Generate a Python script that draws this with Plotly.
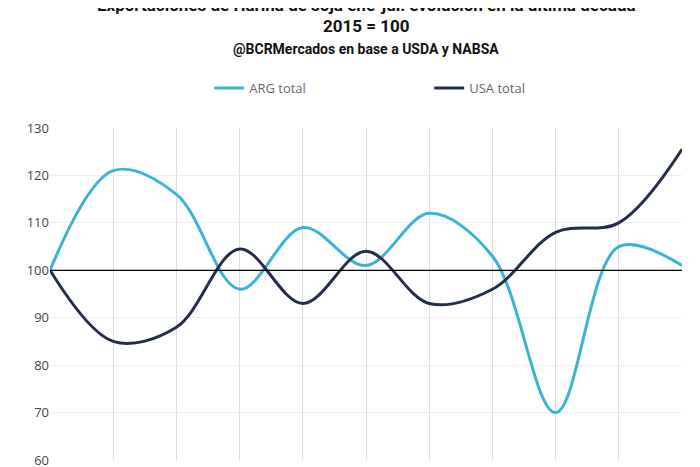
import plotly.graph_objects as go

years = list(range(2015, 2026))
arg_total = [100, 121, 116, 96, 109, 101, 112, 103, 70, 105, 101]
usa_total = [100, 85, 88, 104.5, 93, 104, 93, 96, 108, 110, 125.5]

fig = go.Figure()
fig.add_trace(go.Scatter(x=years, y=arg_total, mode="lines", name="ARG total",
                         line=dict(color="#3ab4d4", width=3, shape="spline", smoothing=1.0)))
fig.add_trace(go.Scatter(x=years, y=usa_total, mode="lines", name="USA total",
                         line=dict(color="#222e4a", width=3, shape="spline", smoothing=1.0)))
fig.add_hline(y=100, line=dict(color="black", width=1.2))

# the page adds ~8px of body margin, so pixel offsets below are shifted up by 8
titles = [
    ("<b>Exportaciones de Harina de soja ene-jul: evolución en la última década</b>", -3, 17),
    ("<b>2015 = 100</b>", 18, 17),
    ("<b>@BCRMercados en base a USDA y NABSA</b>", 41, 14),
]
for text, ypix, size in titles:
    fig.add_annotation(text=text, x=0.5, y=1.0, xref="paper", yref="paper", yanchor="middle",
                       yshift=120 - ypix, showarrow=False,
                       font=dict(size=size, family="Roboto", color="#111"))

fig.update_layout(
    width=700, height=467,
    margin=dict(l=42, r=26, t=120, b=15, autoexpand=False),
    plot_bgcolor="white", paper_bgcolor="white",
    font=dict(family="Open Sans", color="#555", size=13),
    legend=dict(orientation="h", x=0.6, xanchor="center", y=1 - 80 / 467, yref="container",
                yanchor="middle", font=dict(size=13, color="#666"), entrywidth=175),
    xaxis=dict(showticklabels=False, showgrid=True, gridcolor="#dddddd", range=[2015, 2025],
               dtick=1),
    yaxis=dict(range=[60, 130], dtick=10, showgrid=True, gridcolor="#eeeeee",
               tickfont=dict(size=13, color="#444"), zeroline=False),
)
fig.write_html("out.html")
